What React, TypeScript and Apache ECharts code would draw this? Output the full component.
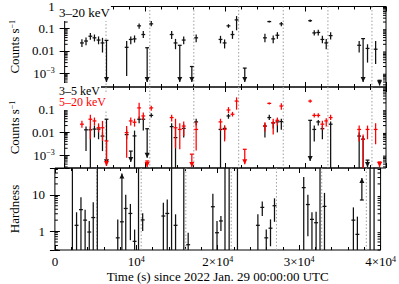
import React, { useEffect, useRef } from 'react';
import * as echarts from 'echarts';

// ---- data ----
const binTimes = [2150, 2660, 3200, 3710, 4220, 4710, 5210, 7720, 8230, 8700, 9270, 9790, 10270, 10780,
  13320, 13800, 14330, 14820, 15830, 16370, 19400, 19910, 20390, 20890, 21400, 22420, 24930, 25470,
  25960, 26480, 26970, 30560, 31070, 31570, 32080, 32560, 33110, 36660, 37150, 37700, 38710, 39200];
const halfBin = 240;
const orbitTimes = [5150, 10600, 16080, 21660, 27210, 32770, 38250];

// [bin, value, low, high, kind]  kind: 0 point, 1 upper limit, 2 lower limit, 3 unconstrained
type Row = [number, number | null, number | null, number | null, number];

const band3to20: Row[] = [
  [0, 0.023, 0.015, 0.034, 0], [1, 0.028, 0.018, 0.04, 0], [2, 0.046, 0.032, 0.065, 0],
  [3, 0.039, 0.027, 0.055, 0], [4, 0.031, 0.02, 0.045, 0], [5, 0.023, 0.0085, 0.039, 0],
  [6, 0.03, 4e-4, 0.03, 1], [7, 0.0146, 7.5e-4, 0.028, 0], [8, 0.033, 0.02, 0.045, 0],
  [9, 0.035, 0.024, 0.05, 0], [10, 0.135, 0.1, 0.17, 0], [11, 0.055, 0.038, 0.08, 0],
  [12, 0.014, 4e-4, 0.014, 1], [13, 0.166, 0.13, 0.22, 0], [14, 0.055, 0.035, 0.08, 0],
  [15, 0.023, 0.012, 0.035, 0], [16, 0.018, 4e-4, 0.018, 1], [17, 0.031, 0.02, 0.045, 0],
  [18, 0.002, 4e-4, 0.002, 1], [19, 0.039, 0.025, 0.055, 0], [20, 0.033, 0.022, 0.048, 0],
  [21, 0.023, 0.013, 0.033, 0], [22, 0.135, 0.11, 0.16, 0], [23, 0.055, 0.035, 0.08, 0],
  [24, 0.25, 0.085, 0.37, 0], [25, 0.0017, 4e-4, 0.0017, 1], [26, 0.039, 0.025, 0.06, 0],
  [27, 0.21, 0.19, 0.23, 0], [28, 0.035, 0.022, 0.05, 0], [29, 0.051, 0.035, 0.07, 0],
  [30, 0.166, 0.13, 0.2, 0], [31, 0.23, 0.2, 0.26, 0], [32, 0.065, 0.05, 0.085, 0],
  [33, 0.068, 0.05, 0.09, 0], [34, 0.033, 0.022, 0.048, 0], [35, 0.023, 0.012, 0.035, 0],
  [36, 0.049, 0.033, 0.07, 0], [37, 0.018, 0.0085, 0.028, 0], [38, 0.036, 4e-4, 0.036, 1],
  [39, 0.013, 0.003, 0.02, 0], [40, 0.012, 0.0026, 0.028, 0], [41, 4.8e-4, 2.8e-4, 4.8e-4, 1],
];

const band3to5: Row[] = [
  [1, 0.013, 0.0015, 0.018, 0], [2, 0.013, null, 0.018, 0], [3, 0.014, 0.006, 0.02, 0],
  [4, 0.014, 0.005, 0.02, 0], [5, 0.0069, 0.0015, 0.01, 0], [6, 0.038, 4e-4, 0.038, 1],
  [7, 0.008, 0.005, 0.012, 0], [8, 0.0015, 5e-4, 0.0015, 1], [9, 0.007, null, 0.012, 0],
  [10, 0.038, 0.025, 0.05, 0], [11, 0.038, 0.012, 0.05, 0], [12, 0.0145, 7.7e-4, 0.0145, 1],
  [13, 0.056, 0.045, 0.07, 0], [14, 0.018, null, 0.025, 0], [15, 0.0059, null, 0.015, 0],
  [17, 0.015, 0.006, 0.022, 0], [19, 0.029, 0.02, 0.04, 0], [20, 0.0135, null, 0.02, 0],
  [21, 0.015, 0.005, 0.02, 0], [22, 0.053, 0.04, 0.065, 0], [26, 0.019, 0.006, 0.025, 0],
  [27, 0.045, 0.035, 0.06, 0], [28, 0.026, 0.015, 0.03, 0], [29, 0.029, 0.01, 0.04, 0],
  [30, 0.03, 0.013, 0.04, 0], [31, 0.034, 5.5e-4, 0.034, 1], [32, 0.0135, 0.004, 0.02, 0],
  [33, 0.029, 0.02, 0.035, 0], [34, 0.0145, 0.005, 0.02, 0], [36, 0.023, null, 0.03, 0],
  [37, 0.0069, null, 0.01, 0], [38, 0.005, null, 0.007, 0], [39, 6e-4, 3e-4, 6e-4, 1],
];

const band5to20: Row[] = [
  [0, 0.023, 0.016, 0.033, 0], [2, 0.038, 0.005, 0.06, 0], [3, 0.032, 0.02, 0.045, 0],
  [4, 0.016, 0.01, 0.025, 0], [5, 0.016, 0.0042, 0.032, 0], [6, 0.0042, 3.3e-4, 0.0042, 1],
  [7, 0.0098, 7.7e-4, 0.019, 0], [8, 0.032, 0.02, 0.045, 0], [9, 0.028, 0.018, 0.04, 0],
  [10, 0.12, 0.04, 0.2, 0], [11, 0.053, 0.035, 0.075, 0], [12, 5.5e-4, 3e-4, 5.5e-4, 1],
  [13, 0.12, 0.09, 0.15, 0], [14, 0.045, 0.03, 0.06, 0], [15, 0.016, 0.002, 0.04, 0],
  [16, 0.0135, 0.0018, 0.025, 0], [17, 0.019, 0.007, 0.03, 0], [18, 0.0011, 3e-4, 0.0011, 1],
  [19, 0.0135, 0.0016, 0.03, 0], [20, 0.029, 0.012, 0.04, 0], [21, 0.0135, 0.004, 0.02, 0],
  [22, 0.097, 0.07, 0.13, 0], [23, 0.063, 0.05, 0.08, 0], [24, 0.24, 0.1, 0.35, 0],
  [25, 0.0018, 4e-4, 0.0018, 1], [26, 0.019, 0.011, 0.028, 0], [27, 0.19, 0.17, 0.21, 0],
  [28, 0.027, 0.008, 0.04, 0], [29, 0.034, 0.02, 0.045, 0], [30, 0.145, 0.1, 0.19, 0],
  [31, 0.24, 0.2, 0.28, 0], [32, 0.056, 0.045, 0.07, 0], [33, 0.056, 0.045, 0.07, 0],
  [34, 0.023, 0.013, 0.033, 0], [35, 0.032, 0.018, 0.042, 0], [36, 0.045, 0.035, 0.06, 0],
  [37, 0.0135, 0.004, 0.02, 0], [38, 0.005, null, 0.008, 0], [39, 0.0135, 0.005, 0.02, 0],
  [40, 0.0135, 0.003, 0.025, 0], [41, 5e-4, 3e-4, 5e-4, 1],
];

const hardness: Row[] = [
  [0, null, null, null, 3], [1, 1.44, null, 3.3, 0], [2, 3.9, null, 8.6, 0], [3, 2.0, null, 3.9, 0],
  [4, 0.94, null, 1.9, 0], [5, 2.36, null, 6.2, 0], [6, null, null, null, 3], [7, 0.65, null, 2.1, 0],
  [8, 1.8, null, 39, 2], [9, 4.2, null, 10, 0], [10, 3.06, 0.56, 5.6, 0], [11, 0.52, null, 1.1, 0],
  [12, null, null, null, 3], [13, 2.03, 1.0, 3.1, 0], [14, 2.6, null, 6, 0], [15, 3.06, null, 7.4, 0],
  [16, null, null, null, 3], [17, 1.44, null, 2.9, 0], [18, null, null, null, 3], [19, 0.42, null, 0.9, 0],
  [20, 4.7, null, 10.7, 0], [21, 0.9, null, 1.9, 0], [22, 1.9, 1.0, 2.6, 0], [23, null, null, null, 3],
  [24, null, null, null, 3], [25, null, null, null, 3], [26, 1.44, null, 2.9, 0], [27, 4.5, 2.6, 6.5, 0],
  [28, 0.65, null, 1.1, 0], [29, 1.2, 0.38, 2.1, 0], [30, 5.0, 1.8, 8.0, 0], [31, 15.8, null, 31, 0],
  [32, 5.4, 0.72, 10, 0], [33, 2.1, 0.31, 3.3, 0], [34, 1.7, null, 3.4, 0], [35, null, null, null, 3],
  [36, 4.8, null, 11.3, 0], [37, 2.0, null, 4.5, 0], [38, 0.81, null, 2.5, 0], [39, 7.2, 7.2, 29, 2],
  [40, null, null, null, 3], [41, null, null, null, 3],
];

const xRange = [0, 40000];
const xInterval = 10000;
const counts1Range = [2.4e-4, 1];
const counts2Range = [2.7e-4, 1];
const hardRange = [0.3, 55];
const bandLabels = ['3\u201320 keV', '3\u20135 keV', '5\u201320 keV'];

// ---- helpers ----
const FONT = 'Liberation Serif';
const RED = '#ff0000';
const INK = '#111';

const toItems = (rows: Row[], range: number[]) =>
  rows.map(([b, v, lo, hi, k]) => [
    binTimes[b],
    v ?? Math.sqrt(range[0] * range[1]),
    lo ?? range[0],
    hi ?? range[1],
    k,
  ]);

const minorValues = (range: number[]) => {
  const out: number[][] = [];
  for (let k = Math.floor(Math.log10(range[0])); k <= Math.ceil(Math.log10(range[1])); k++) {
    for (let m = 2; m <= 9; m++) {
      const v = m * Math.pow(10, k);
      if (v > range[0] && v < range[1]) out.push([0, v]);
    }
  }
  return out;
};

const errRender = (color: string) => (params: any, api: any) => {
  const cs = params.coordSys;
  const t = api.value(0), v = api.value(1), lo = api.value(2), hi = api.value(3), kind = api.value(4);
  const pc = api.coord([t, v]);
  const xc = pc[0], yv = pc[1];
  const xl = api.coord([t - halfBin, v])[0];
  const xr = api.coord([t + halfBin, v])[0];
  const ylo = api.coord([t, lo])[1];
  const yhi = api.coord([t, hi])[1];
  const ls = { stroke: color, lineWidth: 1.25 };
  const children: any[] = [];
  if (kind === 3) {
    children.push({ type: 'line', shape: { x1: xc, y1: cs.y, x2: xc, y2: cs.y + cs.height }, style: ls });
  } else {
    children.push({ type: 'line', shape: { x1: xc, y1: ylo, x2: xc, y2: yhi }, style: ls });
    children.push({ type: 'line', shape: { x1: xl, y1: yv, x2: xr, y2: yv }, style: ls });
    if (kind === 1) {
      children.push({ type: 'polygon', shape: { points: [[xc - 2.5, ylo - 5], [xc + 2.5, ylo - 5], [xc, ylo]] }, style: { fill: color } });
    }
    if (kind === 2) {
      children.push({ type: 'polygon', shape: { points: [[xc - 2.5, yhi + 5], [xc + 2.5, yhi + 5], [xc, yhi]] }, style: { fill: color } });
    }
  }
  return { type: 'group', children };
};

const minorRender = (params: any, api: any) => {
  const cs = params.coordSys;
  const y = api.coord([0, api.value(1)])[1];
  const st = { stroke: '#000', lineWidth: 1 };
  return {
    type: 'group',
    children: [
      { type: 'line', shape: { x1: cs.x, y1: y, x2: cs.x + 3, y2: y }, style: st },
      { type: 'line', shape: { x1: cs.x + cs.width - 3, y1: y, x2: cs.x + cs.width, y2: y }, style: st },
    ],
  };
};

const orbitRender = (params: any, api: any) => {
  const cs = params.coordSys;
  const x = api.coord([api.value(0), api.value(1)])[0];
  return {
    type: 'line',
    shape: { x1: x, y1: cs.y, x2: x, y2: cs.y + cs.height },
    style: { stroke: '#a0a0a0', lineWidth: 1, lineDash: [1.5, 2] },
  };
};

const powLabel = (v: number): string => {
  const lg = Math.log10(v);
  const k = Math.round(lg);
  if (Math.abs(lg - k) > 1e-6) return '';
  if (k >= -2 && k <= 1) return ['0.01', '0.1', '1', '10'][k + 2];
  return `{b|10}{s|\u2212${-k}}`;
};

const xLabel = (v: number): string => {
  if (v === 0) return '0';
  const m = Math.round(v / 10000);
  return m === 1 ? '{b|10}{s|4}' : `{b|${m}\u00d710}{s|4}`;
};

const rich = {
  b: { fontFamily: FONT, fontSize: 13, color: '#000' },
  s: { fontFamily: FONT, fontSize: 8, color: '#000', verticalAlign: 'top', lineHeight: 10 },
};

const grids = [
  { left: 48, top: 5, width: 338, height: 82 },
  { left: 48, top: 87, width: 338, height: 81 },
  { left: 48, top: 168, width: 338, height: 82 },
];
const yRanges = [counts1Range, counts2Range, hardRange];
const yNames = ['Counts s{s|\u22121}', 'Counts s{s|\u22121}', 'Hardness'];

function buildOption() {
  const xAxis: any[] = [];
  const yAxis: any[] = [];
  const tick = { inside: true, length: 5, lineStyle: { color: '#000', width: 1 } };
  ['bottom', 'top'].forEach((pos) => {
    grids.forEach((_, i) => {
      const labelled = pos === 'bottom' && i === 2;
      xAxis.push({
        type: 'value', gridIndex: i, position: pos, min: xRange[0], max: xRange[1], interval: xInterval,
        axisLine: { show: false }, splitLine: { show: false },
        axisTick: tick, minorTick: { show: true, splitNumber: 5, length: 3, lineStyle: { color: '#000' } },
        axisLabel: labelled
          ? { show: true, formatter: xLabel, rich, fontFamily: FONT, fontSize: 13, color: '#000', margin: 5 }
          : { show: false },
        name: labelled ? 'Time (s) since 2022 Jan. 29 00:00:00 UTC' : '',
        nameLocation: 'middle', nameGap: 20,
        nameTextStyle: { fontFamily: FONT, fontSize: 13, color: '#000' },
      });
    });
  });
  ['left', 'right'].forEach((pos) => {
    grids.forEach((_, i) => {
      const left = pos === 'left';
      yAxis.push({
        type: 'log', logBase: 10, gridIndex: i, position: pos, min: yRanges[i][0], max: yRanges[i][1],
        axisLine: { show: false }, splitLine: { show: false }, axisTick: tick,
        axisLabel: left
          ? { show: true, formatter: powLabel, rich, fontFamily: FONT, fontSize: 13, color: '#000', margin: 10, showMaxLabel: i !== 1 }
          : { show: false },
        name: left ? yNames[i] : '',
        nameLocation: 'middle', nameGap: 29, nameRotate: 90,
        nameTextStyle: { fontFamily: FONT, fontSize: 13, color: '#000', rich },
      });
    });
  });

  const series: any[] = [];
  grids.forEach((_, i) => {
    series.push({
      type: 'custom', xAxisIndex: i, yAxisIndex: i, silent: true, z: 1,
      renderItem: orbitRender, data: orbitTimes.map((t) => [t, yRanges[i][1]]), encode: { x: 0, y: 1 },
    });
    series.push({
      type: 'custom', xAxisIndex: i, yAxisIndex: i, silent: true, z: 2,
      renderItem: minorRender, data: minorValues(yRanges[i]), encode: { x: 0, y: 1 },
    });
  });
  const addErr = (rows: Row[], i: number, color: string, z: number) =>
    series.push({
      type: 'custom', xAxisIndex: i, yAxisIndex: i, silent: true, z,
      renderItem: errRender(color), data: toItems(rows, yRanges[i]), encode: { x: 0, y: 1 },
    });
  addErr(band3to20, 0, INK, 3);
  addErr(band3to5, 1, INK, 3);
  addErr(band5to20, 1, RED, 4);
  addErr(hardness, 2, INK, 3);

  const tstyle = (color: string, size: number) => ({ fontFamily: FONT, fontSize: size, fontWeight: 'normal', color });
  return {
    animation: false,
    backgroundColor: '#fff',
    grid: grids.map((g) => ({ ...g, show: true, borderColor: '#000', borderWidth: 1, backgroundColor: 'transparent' })),
    xAxis, yAxis, series,
    title: [
      { text: bandLabels[0], left: 58, top: 4, padding: [2, 1], z: 10, backgroundColor: '#fff', textStyle: tstyle('#000', 13) },
      { text: bandLabels[1], left: 58, top: 83, padding: [2, 1], z: 10, backgroundColor: '#fff', textStyle: tstyle('#000', 12) },
      { text: bandLabels[2], left: 58, top: 94, padding: [2, 1], z: 10, backgroundColor: '#fff', textStyle: tstyle(RED, 12) },
    ],
  };
}

export default function App() {
  const ref = useRef<HTMLDivElement>(null);
  useEffect(() => {
    const chart = echarts.init(ref.current!, null, { renderer: 'svg' });
    chart.setOption(buildOption() as any);
    return () => chart.dispose();
  }, []);
  return <div ref={ref} style={{ position: 'fixed', left: 0, top: 0, width: 399, height: 284, background: '#fff' }} />;
}
